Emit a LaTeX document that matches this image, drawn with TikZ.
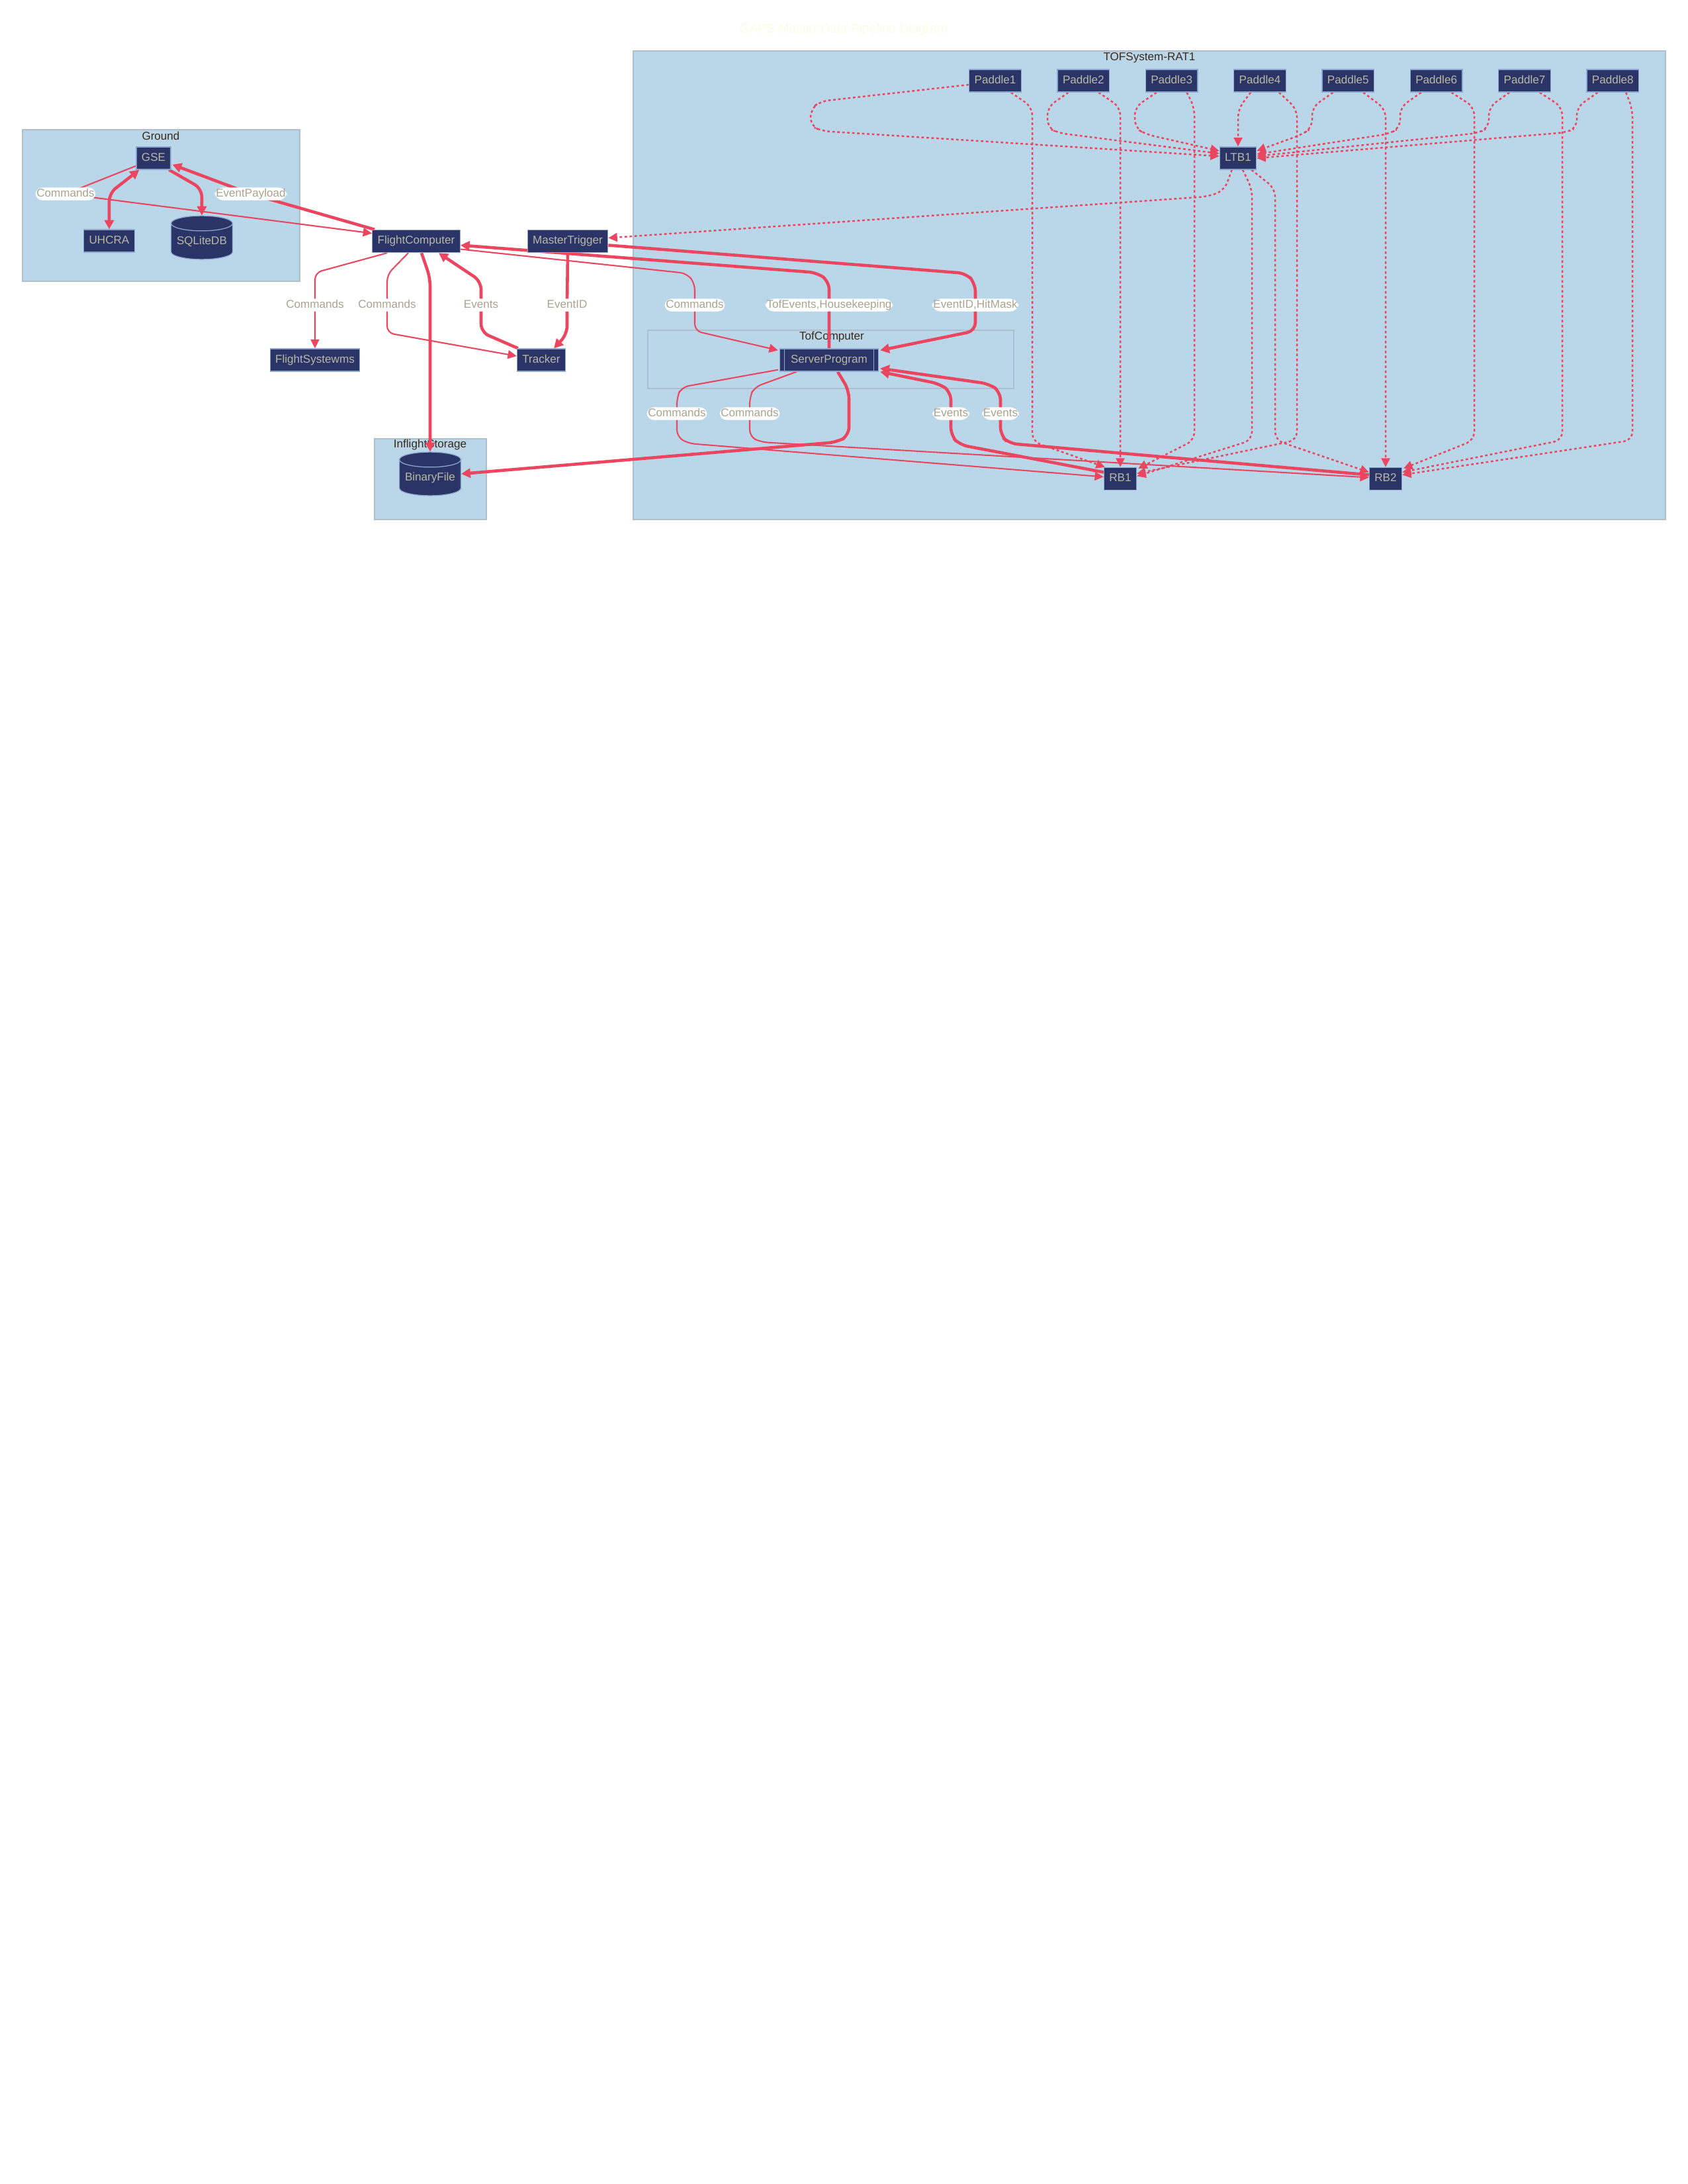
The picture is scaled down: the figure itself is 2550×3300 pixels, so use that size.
\documentclass[tikz,border=0pt]{standalone}
\usepackage{fontspec}
\setmainfont{Liberation Sans}
\usetikzlibrary{arrows.meta,shapes.geometric,positioning,calc}
\usepackage{xcolor}

\definecolor{clusterfill}{HTML}{BAD7E9}
\definecolor{clusterline}{HTML}{AEBFCB}
\definecolor{clustertext}{HTML}{3B2A1D}
\definecolor{nodefill}{HTML}{2B3467}
\definecolor{nodeline}{HTML}{8EA7CF}
\definecolor{nodetext}{HTML}{B9B7A5}
\definecolor{lbltext}{HTML}{A7A591}
\definecolor{edgecol}{HTML}{EB455F}
\definecolor{titlecol}{HTML}{FAFDE3}

\pgfdeclarelayer{back}
\pgfdeclarelayer{wires}
\pgfsetlayers{back,wires,main}

\newcommand{\diafont}{\fontsize{4.1pt}{4.9pt}\selectfont}
\newcommand{\headfont}{\fontsize{4.6pt}{5.5pt}\selectfont}

\begin{document}
\begin{tikzpicture}[
				x=0.24pt,y=-0.24pt,
				box/.style={draw=nodeline,line width=0.3pt,fill=nodefill,text=nodetext,font=\diafont,minimum height=8.2pt,inner xsep=1.9pt,inner ysep=0pt,text height=3pt,text depth=0.9pt},
				db/.style={cylinder,shape border rotate=90,shape aspect=0.3,draw=nodeline,line width=0.3pt,fill=nodefill,text=nodetext,font=\diafont,minimum width=22.3pt,minimum height=15.8pt,inner sep=0pt,text height=3pt,text depth=0.9pt},
				lbl/.style={fill=white,text=lbltext,font=\diafont,inner xsep=0.4pt,inner ysep=0.35pt,text height=3pt,text depth=0.9pt},
				cluster/.style={draw=clusterline,line width=0.4pt,fill=clusterfill},
				subcluster/.style={draw=clusterline,line width=0.4pt},
				clusterlbl/.style={text=clustertext,font=\diafont,inner sep=0pt},
				flow/.style={draw=edgecol,line width=0.5pt,rounded corners=2.5pt,-{Triangle[length=3.2pt,width=3.1pt]}},
				bigflow/.style={draw=edgecol,line width=1.1pt,rounded corners=3pt,-{Triangle[length=3.3pt,width=3.4pt]}},
				dotflow/.style={draw=edgecol,line width=0.6pt,dash pattern=on 0.9pt off 0.9pt,rounded corners=3pt,-{Triangle[length=3.2pt,width=3.1pt]}}
				]
				
				% Titolo
				\node[font=\headfont,text=titlecol] (title) at (1275,45) {GAPS Master Data Pipeline Diagram};
				
				% Ground
				\node[box] (gse) at (232,239) {GSE};
				\node[box] (uhcra) at (165,364) {UHCRA};
				\node[db] (sqlite) at (305,365) {SQLiteDB};
				
				% Volo
				\node[box] (fc) at (629,364.5) {FlightComputer};
				\node[box] (mt) at (858,364.5) {MasterTrigger};
				\node[box] (fs) at (476,544) {FlightSystewms};
				\node[box] (tracker) at (818,544) {Tracker};
				\node[db] (bf) at (650,722) {BinaryFile};
				
				% TOF
				\node[box,inner xsep=4pt] (sp) at (1253,544) {ServerProgram};
				\draw[nodeline,line width=0.3pt] ($(sp.north west)+(8,0)$) -- ($(sp.south west)+(8,0)$);
				\draw[nodeline,line width=0.3pt] ($(sp.north east)+(-8,0)$) -- ($(sp.south east)+(-8,0)$);
				\node[box] (ltb) at (1871,239) {LTB1};
				\node[box] (rb1) at (1693,723.5) {RB1};
				\node[box] (rb2) at (2094,723.5) {RB2};
				
				% Paddle
				\node[box] (p1) at (1504,122) {Paddle1};
				\node[box,on grid,right=32pt of p1] (p2) {Paddle2};
				\node[box,on grid,right=32pt of p2] (p3) {Paddle3};
				\node[box,on grid,right=32pt of p3] (p4) {Paddle4};
				\node[box,on grid,right=32pt of p4] (p5) {Paddle5};
				\node[box,on grid,right=32pt of p5] (p6) {Paddle6};
				\node[box,on grid,right=32pt of p6] (p7) {Paddle7};
				\node[box,on grid,right=32pt of p7] (p8) {Paddle8};
				
				% Sottografi
				\begin{pgfonlayer}{back}
					\fill[white] (0,0) rectangle (2550,3300);
					\draw[cluster] (957,77) rectangle (2517,785);
					\node[clusterlbl] (toflbl) at (1737,87) {TOFSystem-RAT1};
					\draw[cluster] (34,196) rectangle (453,425);
					\node[clusterlbl] (groundlbl) at (243,205) {Ground};
					\draw[cluster] (566,663) rectangle (735,785);
					\node[clusterlbl] (storelbl) at (650,672) {InflightStorage};
					\draw[subcluster] (979,499) rectangle (1532,587);
					\node[clusterlbl] (tofclbl) at (1257,509) {TofComputer};
				\end{pgfonlayer}
				
				\begin{pgfonlayer}{wires}
					% Ground
					\draw[flow] ($(gse.south west)+(0,-6)$) -- (99,293) node[lbl] {Commands} -- ($(fc.west)+(0,-12)$);
					\draw[bigflow] ($(fc.north west)+(4,0)$) -- (379,293) node[lbl] {EventPayload} -- ($(gse.south east)+(2,-8)$);
					\draw[bigflow,{Triangle[length=3.3pt,width=3.4pt]}-{Triangle[length=3.3pt,width=3.4pt]}] (uhcra.north) -- (165,292) -- ($(gse.south west)+(5,0)$);
					\draw[bigflow] ($(gse.south east)+(-3,0)$) -- (305,285) -- (sqlite.north);
					
					% FlightComputer
					\draw[flow] ($(fc.south)+(-44,0)$) -- (476,412) -- (476,461) node[lbl] {Commands} -- (fs.north);
					\draw[flow] ($(fc.south)+(-12,0)$) -- (585,415) -- (585,461) node[lbl] {Commands} -- (585,503) -- ($(tracker.west)+(0,-6)$);
					\draw[bigflow] ($(tracker.north west)+(2,0)$) -- (727,502) -- (727,461) node[lbl] {Events} -- (727,425) -- ($(fc.south)+(34,0)$);
					\draw[bigflow] (mt.south) -- (857,461) node[lbl] {EventID} -- (857,505) -- ($(tracker.north east)+(-18,0)$);
					\draw[bigflow] ($(fc.south)+(8,0)$) -- (650,420) -- (bf.north);
					
					% TofComputer verso l'alto
					\draw[bigflow] (sp.north) -- (1253,461) node[lbl] {TofEvents,Housekeeping} -- (1253,425) -- (1235,412) -- ($(fc.east)+(0,6)$);
					\draw[flow] ($(fc.east)+(0,12)$) -- (1038,413) -- (1050,428) -- (1050,461) node[lbl] {Commands} -- (1050,500) -- ($(sp.north west)+(-2,3)$);
					\draw[bigflow] ($(mt.east)+(0,6)$) -- (1460,413) -- (1474,428) -- (1474,461) node[lbl] {EventID,HitMask} -- (1474,500) -- ($(sp.north east)+(2,3)$);
					\draw[dotflow] ($(ltb.south west)+(19,0)$) -- (1850,288) -- (1825,297) -- ($(mt.east)+(0,-5)$);
					
					% TofComputer verso il basso
					\draw[flow] ($(sp.south west)+(-2,-3)$) -- (1030,585) -- (1023,600) -- (1023,625) node[lbl] {Commands} -- (1023,660) -- (1040,670) -- ($(rb1.west)+(0,-3)$);
					\draw[flow] ($(sp.south west)+(26,0)$) -- (1140,585) -- (1133,600) -- (1133,625) node[lbl] {Commands} -- (1133,660) -- (1150,668) -- ($(rb2.west)+(0,-2)$);
					\draw[bigflow] ($(rb1.west)+(0,-10)$) -- (1450,672) -- (1437,658) -- (1437,625) node[lbl] {Events} -- (1437,592) -- (1420,580) -- ($(sp.south east)+(2,0)$);
					\draw[bigflow] ($(rb2.west)+(0,-6)$) -- (1525,670) -- (1512,658) -- (1512,625) node[lbl] {Events} -- (1512,592) -- (1495,580) -- ($(sp.south east)+(2,-5)$);
					\draw[bigflow] ($(sp.south)+(13,0)$) -- (1283,590) -- (1283,658) -- (1265,668) -- ($(bf.east)+(0,-6)$);
					
					% Paddle verso LTB1
					\draw[dotflow] ($(p1.west)+(0,6)$) -- (1240,153) -- (1225,165) -- (1225,190) -- (1242,198) -- ($(ltb.west)+(0,-3)$);
					\draw[dotflow] ($(p2.south west)+(17,0)$) -- (1583,162) -- (1583,193) -- (1600,201) -- ($(ltb.west)+(0,-7)$);
					\draw[dotflow] ($(p3.south west)+(17,0)$) -- (1715,162) -- (1715,193) -- (1732,203) -- ($(ltb.west)+(0,-11)$);
					\draw[dotflow] ($(p4.south)+(-14,0)$) -- (1871,165) -- (ltb.north);
					\draw[dotflow] ($(p5.south west)+(17,0)$) -- (1983,162) -- (1983,193) -- (1968,203) -- ($(ltb.east)+(0,-11)$);
					\draw[dotflow] ($(p6.south west)+(17,0)$) -- (2116,162) -- (2116,193) -- (2100,202) -- ($(ltb.east)+(0,-6)$);
					\draw[dotflow] ($(p7.south west)+(17,0)$) -- (2250,162) -- (2250,193) -- (2234,201) -- ($(ltb.east)+(0,-3)$);
					\draw[dotflow] ($(p8.south west)+(17,0)$) -- (2383,162) -- (2383,193) -- (2367,200) -- (ltb.east);
					
					% Paddle verso RB
					\draw[dotflow] ($(p1.south east)+(-16,0)$) -- (1560,162) -- (1560,667) -- ($(rb1.north west)+(2,0)$);
					\draw[dotflow] ($(p2.south east)+(-17,0)$) -- (1693,162) -- (rb1.north);
					\draw[dotflow] ($(p3.south east)+(-17,0)$) -- (1805,162) -- (1805,665) -- ($(rb1.north east)+(2,2)$);
					\draw[dotflow] ($(p4.south east)+(-11,0)$) -- (1960,165) -- (1960,665) -- ($(rb1.east)+(0,-8)$);
					\draw[dotflow] ($(p5.south east)+(-17,0)$) -- (2094,165) -- (rb2.north);
					\draw[dotflow] ($(p6.south east)+(-17,0)$) -- (2228,162) -- (2228,665) -- ($(rb2.north east)+(2,2)$);
					\draw[dotflow] ($(p7.south east)+(-17,0)$) -- (2361,162) -- (2361,665) -- ($(rb2.east)+(0,-10)$);
					\draw[dotflow] ($(p8.south east)+(-20,0)$) -- (2467,165) -- (2467,665) -- ($(rb2.east)+(0,-6)$);
					
					% LTB1 verso RB
					\draw[dotflow] ($(ltb.south)+(7,0)$) -- (1892,285) -- (1892,665) -- ($(rb1.east)+(0,-4)$);
					\draw[dotflow] ($(ltb.south east)+(-8,0)$) -- (1927,285) -- (1927,665) -- ($(rb2.west)+(0,-10)$);
				\end{pgfonlayer}
				
				\useasboundingbox (0,0) rectangle (2550,3300);
			\end{tikzpicture}
\end{document}
